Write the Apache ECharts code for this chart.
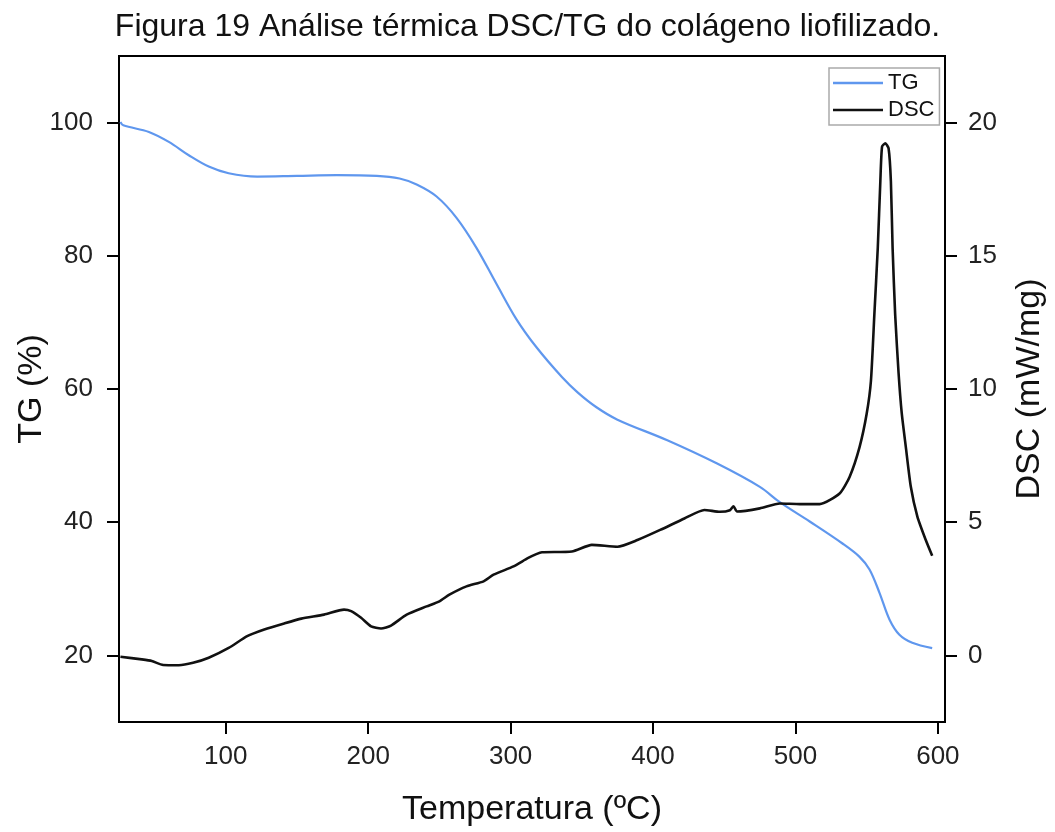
<!DOCTYPE html>
<html>
<head>
<meta charset="utf-8">
<title>DSC/TG</title>
<script src="https://cdn.jsdelivr.net/npm/echarts@6/dist/echarts.min.js"></script>
<style>
  html, body { margin: 0; padding: 0; background: #ffffff; }
  #chart { width: 1055px; height: 832px; }
</style>
</head>
<body>
<div id="chart"></div>
<script>
// Thermogravimetric curve: temperature (ºC) and remaining mass (%)
const tgTemp = [26, 28, 46, 60, 74, 88, 102, 122, 150, 178, 206, 222, 234, 248, 262, 276, 290, 304, 318, 336, 347, 360, 375, 410, 445, 475, 489, 510, 533, 545, 552, 559, 566, 573, 582, 596];
const tgValues = [100.1, 99.6, 98.6, 97.1, 95.1, 93.4, 92.4, 91.9, 92.0, 92.1, 92.0, 91.6, 90.7, 88.9, 85.7, 81.2, 75.8, 70.5, 66.3, 61.8, 59.5, 57.3, 55.4, 52.3, 48.8, 45.3, 43.0, 40.1, 36.8, 34.8, 32.9, 29.4, 25.4, 23.1, 21.9, 21.1];

// DSC heat flow: temperature (ºC) and signal (mW/mg)
const dscTemp = [26, 41, 48, 56, 67, 77, 88, 102, 115, 127, 141, 153, 169, 183, 188, 195, 202, 209, 216, 227, 241, 250, 257, 269, 281, 288, 302, 312, 318, 322, 343, 357, 375, 389, 405, 422, 436, 447, 454, 456.5, 459, 475, 489, 503, 517, 531, 538, 545, 550, 553, 555.4, 557.8, 559.6, 560.8, 563.1, 565.4, 567, 568.2, 570, 572.4, 574.6, 577.5, 581, 585.6, 591.5, 596];
const dscValues = [-0.05, -0.15, -0.21, -0.36, -0.37, -0.28, -0.09, 0.28, 0.72, 0.97, 1.20, 1.38, 1.53, 1.72, 1.66, 1.41, 1.09, 1.01, 1.12, 1.53, 1.84, 2.03, 2.28, 2.59, 2.78, 3.03, 3.34, 3.65, 3.80, 3.87, 3.90, 4.15, 4.08, 4.33, 4.71, 5.14, 5.46, 5.39, 5.45, 5.60, 5.40, 5.52, 5.70, 5.68, 5.68, 6.08, 6.70, 7.82, 9.07, 10.31, 12.8, 15.3, 17.8, 19.1, 19.22, 19.03, 17.8, 15.3, 12.8, 10.6, 9.1, 7.82, 6.33, 5.21, 4.33, 3.74];

// Tick labels
const tempTicks = [100, 200, 300, 400, 500, 600];
const tgTicks = [20, 40, 60, 80, 100];
const dscTicks = [0, 5, 10, 15, 20];

const FONT = "'Liberation Sans', Arial, Helvetica, sans-serif";
const TG_COLOR = '#5f97ee';
const DSC_COLOR = '#111111';

const zip = (xs, ys) => xs.map((x, i) => [x, ys[i]]);

const axisLineStyle = { show: true, onZero: false, lineStyle: { color: '#000', width: 2 } };
const tickStyle = { show: true, inside: false, length: 12, lineStyle: { color: '#000', width: 2 } };
const labelStyle = { color: '#222', fontSize: 26, fontFamily: FONT };
const nameStyle = { color: '#111', fontSize: 34, fontFamily: FONT };

const chart = echarts.init(document.getElementById('chart'), null, { renderer: 'canvas' });

chart.setOption({
  backgroundColor: '#ffffff',
  animation: false,
  title: {
    text: 'Figura 19 Análise térmica DSC/TG do colágeno liofilizado.',
    left: 'center',
    top: 11,
    padding: 0,
    textStyle: { color: '#111', fontSize: 32, fontWeight: 'normal', fontFamily: FONT }
  },
  legend: {
    orient: 'vertical',
    left: 829,
    top: 68,
    padding: [4, 5, 4, 4],
    itemGap: 5,
    itemWidth: 50,
    itemHeight: 2.5,
    icon: 'rect',
    borderColor: '#aaaaaa',
    borderWidth: 1.5,
    borderRadius: 0,
    textStyle: { color: '#111', fontSize: 22, fontFamily: FONT, lineHeight: 22 },
    data: ['TG', 'DSC']
  },
  grid: {
    left: 119,
    right: 106,
    top: 56,
    bottom: 105,
    show: true,
    borderColor: '#000',
    borderWidth: 2,
    backgroundColor: 'transparent'
  },
  xAxis: {
    type: 'value',
    min: 25,
    max: 605,
    name: 'Temperatura (ºC)',
    nameLocation: 'middle',
    nameGap: 71,
    nameMoveOverlap: false,
    nameTextStyle: nameStyle,
    axisLine: axisLineStyle,
    axisTick: Object.assign({}, tickStyle, { customValues: tempTicks }),
    axisLabel: Object.assign({}, labelStyle, { margin: 22, customValues: tempTicks }),
    splitLine: { show: false }
  },
  yAxis: [
    {
      type: 'value',
      position: 'left',
      min: 10,
      max: 110,
      name: 'TG (%)',
      nameLocation: 'middle',
      nameRotate: 90,
      nameGap: 70,
      nameMoveOverlap: false,
      nameTextStyle: nameStyle,
      axisLine: axisLineStyle,
      axisTick: Object.assign({}, tickStyle, { customValues: tgTicks }),
      axisLabel: Object.assign({}, labelStyle, { margin: 26, customValues: tgTicks }),
      splitLine: { show: false }
    },
    {
      type: 'value',
      position: 'right',
      min: -2.5,
      max: 22.5,
      name: 'DSC (mW/mg)',
      nameLocation: 'middle',
      nameRotate: 90,
      nameGap: 68,
      nameMoveOverlap: false,
      nameTextStyle: nameStyle,
      axisLine: axisLineStyle,
      axisTick: Object.assign({}, tickStyle, { customValues: dscTicks }),
      axisLabel: Object.assign({}, labelStyle, { margin: 23, customValues: dscTicks }),
      splitLine: { show: false }
    }
  ],
  series: [
    {
      name: 'TG',
      type: 'line',
      yAxisIndex: 0,
      data: zip(tgTemp, tgValues),
      smooth: 0.35,
      symbol: 'none',
      lineStyle: { color: TG_COLOR, width: 2.2 },
      itemStyle: { color: TG_COLOR }
    },
    {
      name: 'DSC',
      type: 'line',
      yAxisIndex: 1,
      data: zip(dscTemp, dscValues),
      smooth: 0.2,
      symbol: 'none',
      lineStyle: { color: DSC_COLOR, width: 2.6 },
      itemStyle: { color: DSC_COLOR }
    }
  ]
});
</script>
</body>
</html>
